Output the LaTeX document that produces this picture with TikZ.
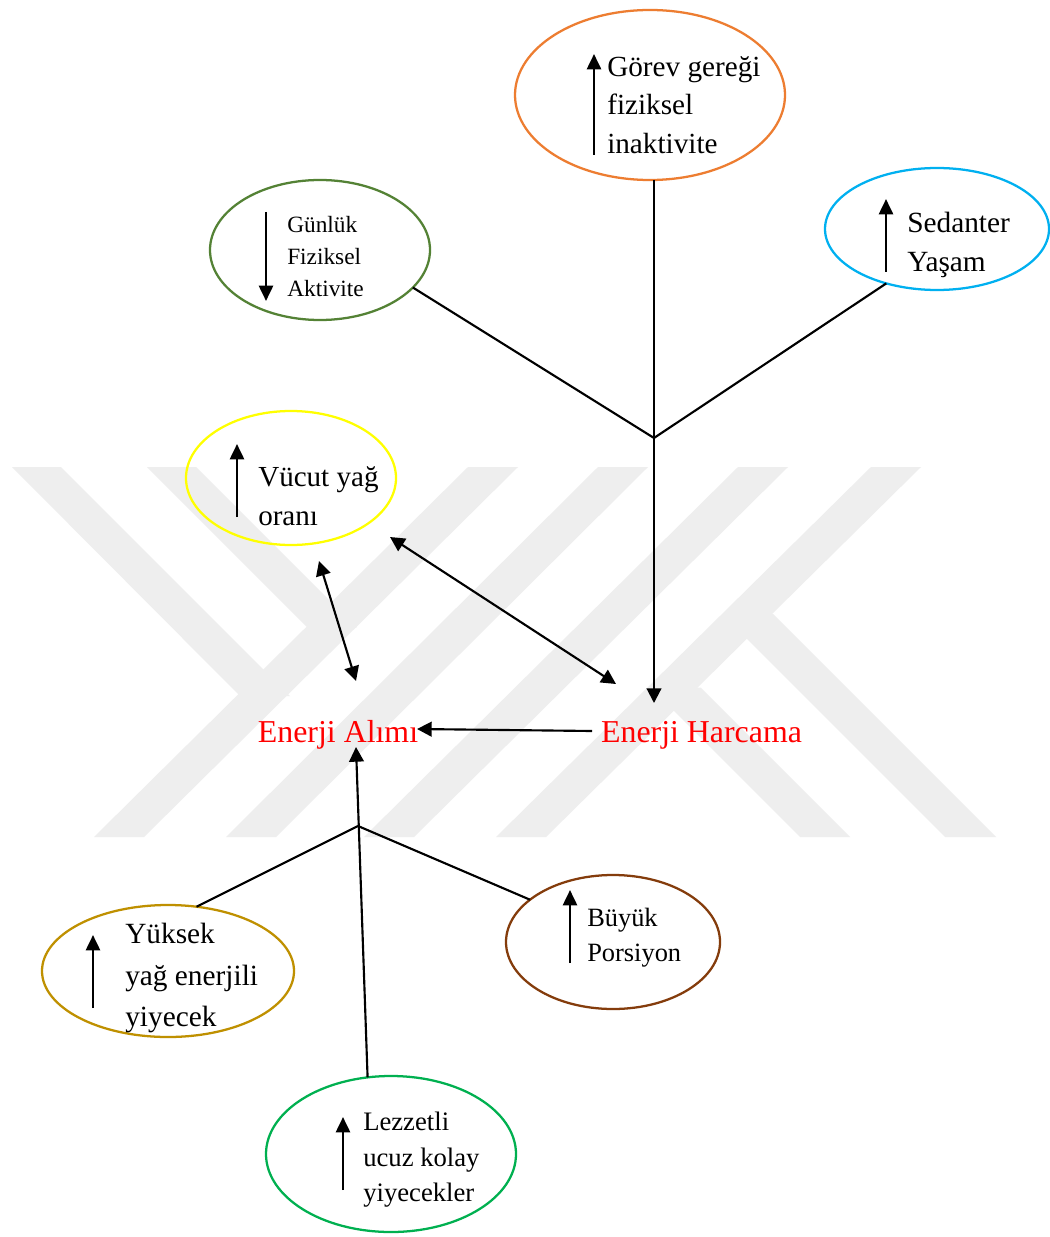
\documentclass[tikz,border=0pt]{standalone}
\usepackage{fontspec}
\setmainfont{Liberation Serif}
\usetikzlibrary{arrows.meta,shapes.geometric}
\definecolor{wm}{RGB}{238,238,238}
\definecolor{orng}{RGB}{237,125,49}
\definecolor{olivegr}{RGB}{84,130,53}
\definecolor{sky}{RGB}{0,176,240}
\definecolor{yel}{RGB}{255,255,0}
\definecolor{gold}{RGB}{191,144,0}
\definecolor{brwn}{RGB}{132,60,12}
\definecolor{grn}{RGB}{0,176,80}
\begin{document}
\begin{tikzpicture}[x=0.75pt,y=-0.75pt,
  bub/.style={draw, ellipse, line width=1.7pt, inner sep=0pt, outer sep=0pt},
  lbl/.style={anchor=west, align=left, inner sep=0pt},
  conn/.style={line width=1.6pt, black},
  tipone/.style={-{Triangle[length=11pt,width=11pt]}},
  tiptwo/.style={{Triangle[length=11pt,width=11pt]}-{Triangle[length=11pt,width=11pt]}},
  sarrow/.style={line width=2pt, -{Triangle[length=11.5pt,width=10.5pt]}},
  energy/.style={text=red, inner sep=0pt, font=\fontsize{23.9pt}{28pt}\selectfont}
]
\useasboundingbox (0,0) rectangle (1049,1237);
\fill[white] (0,0) rectangle (1049,1237);
% watermark
\begin{scope}[wm]
\fill (468,467) -- (518,467) -- (144,837) -- (94,837) -- cycle;
\fill (598,467) -- (648,467) -- (276,837) -- (226,837) -- cycle;
\fill (738,467) -- (788,467) -- (414,837) -- (364,837) -- cycle;
\fill (871,467) -- (921,467) -- (546,837) -- (496,837) -- cycle;
\fill (12,467) -- (61,467) -- (290,696) -- (240,696) -- cycle;
\fill (147,467) -- (196,467) -- (356.5,627.5) -- (307.5,627.5) -- cycle;
\fill (800,837) -- (850,837) -- (700.5,687.5) -- (650.5,687.5) -- cycle;
\fill (945,837) -- (996,837) -- (773,614) -- (722,614) -- cycle;
\end{scope}

% ellipses
\node[bub, draw=orng, minimum width=202.5pt, minimum height=127.5pt] (gorev) at (650,95) {};
\node[bub, draw=olivegr, minimum width=165pt, minimum height=105pt] (gunluk) at (320,250) {};
\node[bub, draw=sky, minimum width=168pt, minimum height=91.5pt] (sedanter) at (937,229) {};
\node[bub, draw=yel, minimum width=157.5pt, minimum height=100.5pt] (vucut) at (291,478) {};
\node[bub, draw=gold, minimum width=189pt, minimum height=99pt] (yuksek) at (168,971) {};
\node[bub, draw=brwn, minimum width=160.5pt, minimum height=100.5pt] (buyuk) at (613,942) {};
\node[bub, draw=grn, minimum width=187.5pt, minimum height=117pt] (lezzetli) at (391,1154) {};

% texts
\node[lbl, font=\fontsize{21.9pt}{28.9pt}\selectfont] (gorevT) at (607,105) {Görev gereği\\fiziksel\\inaktivite};
\node[lbl, font=\fontsize{17.5pt}{24pt}\selectfont] (gunlukT) at (287,256.5) {Günlük\\Fiziksel\\Aktivite};
\node[lbl, font=\fontsize{22pt}{29.3pt}\selectfont] (sedanterT) at (907,244.5) {Sedanter\\Yaşam};
\node[lbl, font=\fontsize{21.8pt}{29.3pt}\selectfont] (vucutT) at (258,496.5) {Vücut yağ\\oranı};
\node[lbl, font=\fontsize{22pt}{30.8pt}\selectfont] (yuksekT) at (125,978) {Yüksek\\yağ enerjili\\yiyecek};
\node[lbl, font=\fontsize{19.8pt}{26.3pt}\selectfont] (buyukT) at (587,937.5) {Büyük\\Porsiyon};
\node[lbl, font=\fontsize{20pt}{26.6pt}\selectfont] (lezzetliT) at (363,1160) {Lezzetli\\ucuz kolay\\yiyecekler};
\node[energy] (alimi) at (338,735) {Enerji Alımı};
\node[energy] (harcama) at (701.5,735) {Enerji Harcama};

% small arrows inside bubbles
\draw[sarrow] (594,155) -- (594,54);
\draw[sarrow] (266,212) -- (266,301);
\draw[sarrow] (886,272) -- (886,199);
\draw[sarrow] (237,517) -- (237,444);
\draw[sarrow] (93,1008) -- (93,935);
\draw[sarrow] (570,963) -- (570,890);
\draw[sarrow] (343,1190) -- (343,1117);

% connectors
\coordinate (j1) at (654,438);
\coordinate (j2) at (358,826);
\coordinate (hIn) at (654,703);
\coordinate (vA1) at (319,561);
\coordinate (vA2) at (356,681);
\coordinate (vH1) at (390,537);
\coordinate (vH2) at (616,684);
\coordinate (hOut) at (592,731);
\coordinate (aIn) at (417,729);
\coordinate (aIn2) at (356,747);

\draw[conn, tipone] (gorev.south -| j1) -- (hIn);
\draw[conn] (gunluk.-22) -- (j1);
\draw[conn] (sedanter.-133) -- (j1);
\draw[conn, tiptwo] (vA1) -- (vA2);
\draw[conn, tiptwo] (vH1) -- (vH2);
\draw[conn, tipone] (hOut) -- (aIn);
\draw[conn, tipone] (lezzetli.107) -- (aIn2);
\draw[conn] (yuksek.66) -- (j2);
\draw[conn] (buyuk.153) -- (j2);
\end{tikzpicture}
\end{document}
